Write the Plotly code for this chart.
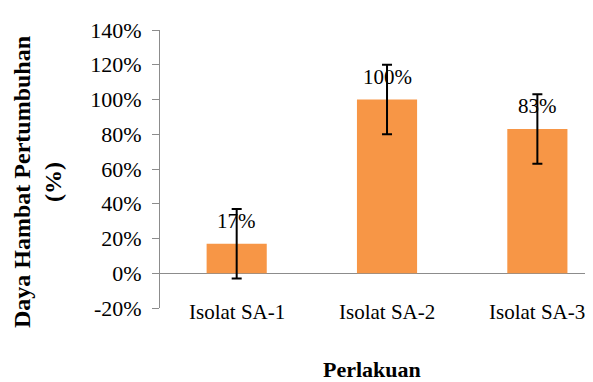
import plotly.graph_objects as go

categories = ["Isolat SA-1", "Isolat SA-2", "Isolat SA-3"]
values = [17, 100, 83]
errors = [20, 20, 20]
y_ticks = [-20, 0, 20, 40, 60, 80, 100, 120, 140]
y_title = "Daya Hambat Pertumbuhan<br>(%)"
x_title = "Perlakuan"

FONT = "Liberation Serif, Times New Roman, serif"
GRAY = "#8c8c8c"

fig = go.Figure()
fig.add_trace(go.Bar(
    x=list(range(len(categories))), y=values,
    width=0.4,
    marker=dict(color="#F79646", line=dict(width=0)),
    error_y=dict(type="data", array=errors, visible=True,
                 color="black", thickness=2, width=5),
))

annotations = []
for i, (c, v) in enumerate(zip(categories, values)):
    annotations.append(dict(x=i, y=v, xref="x", yref="y", text=f"{v}%",
                            showarrow=False, yanchor="middle", yshift=23,
                            font=dict(family=FONT, size=21, color="black")))
    annotations.append(dict(x=i, y=y_ticks[0], xref="x", yref="y", text=c,
                            showarrow=False, yanchor="middle", yshift=-4,
                            font=dict(family=FONT, size=21, color="black")))

annotations.append(dict(x=-0.283, y=0.455, xref="paper", yref="paper",
                        text=f"<b>{y_title}</b>", textangle=-90, showarrow=False,
                        xanchor="center", yanchor="middle",
                        font=dict(family=FONT, size=24, color="black")))
annotations.append(dict(x=0.49, y=-0.22, xref="paper", yref="paper",
                        text=f"<b>{x_title}</b>", showarrow=False,
                        xanchor="center", yanchor="middle",
                        font=dict(family=FONT, size=22, color="black")))

# page has an 8px body margin; size the figure to fit the window
fig.update_layout(
    width=585, height=374,
    margin=dict(l=152, r=0, t=22, b=74),
    paper_bgcolor="white", plot_bgcolor="white",
    showlegend=False,
    font=dict(family=FONT, color="black"),
    annotations=annotations,
    xaxis=dict(range=[-0.51, 2.37], showticklabels=False, showgrid=False,
               zeroline=False, showline=False, ticks=""),
    yaxis=dict(range=[-20, 140], tickvals=y_ticks, ticktext=[f"{t}%" for t in y_ticks],
               showgrid=False, showline=True, linecolor=GRAY, linewidth=1,
               ticks="outside", ticklen=7, tickcolor=GRAY,
               zeroline=True, zerolinecolor=GRAY, zerolinewidth=1,
               ticklabelstandoff=6,
               tickfont=dict(family=FONT, size=22, color="black")),
)

fig.write_html("out.html")
